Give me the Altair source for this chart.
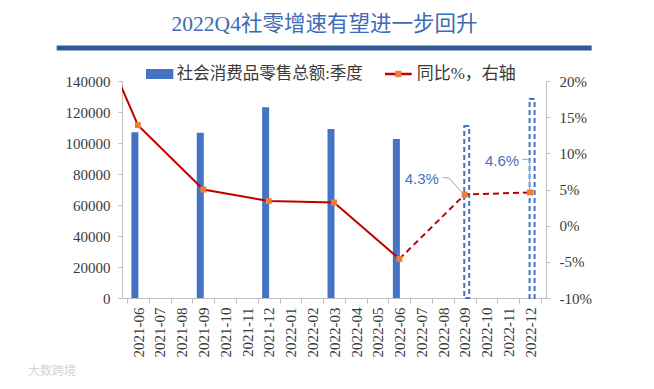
import altair as alt
import pandas as pd

# ---------------- data ----------------
months = ["2021-06", "2021-07", "2021-08", "2021-09", "2021-10", "2021-11",
          "2021-12", "2022-01", "2022-02", "2022-03", "2022-04", "2022-05",
          "2022-06", "2022-07", "2022-08", "2022-09", "2022-10", "2022-11",
          "2022-12"]

# quarterly retail sales (actual) -> month index into `months`
sales_idx = [0, 3, 6, 9, 12]
sales_val = [107000, 106600, 123000, 109000, 102600]
# forecast quarters (dashed outline bars)
fc_idx = [15, 18]
fc_val = [111000, 128400]

# YoY %, actual (first point is 2021-03, lies left of the plotted range)
yoy_idx = [-3, 0, 3, 6, 9, 12]
yoy_val = [34.9, 13.9, 5.0, 3.4, 3.2, -4.6]
# YoY %, forecast (dashed)
yoy_fc_idx = [12, 15, 18]
yoy_fc_val = [-4.6, 4.3, 4.6]
# markers
mk_idx = [0, 3, 6, 9, 12, 15, 18]
mk_val = [13.9, 5.0, 3.4, 3.2, -4.6, 4.3, 4.6]

title_text = "2022Q4社零增速有望进一步回升"
legend_bar = "社会消费品零售总额:季度"
legend_line = "同比%，右轴"

# ---------------- styling ----------------
BLUE = "#4472C4"
RED = "#C00000"
ORANGE = "#ED7D31"
AXIS = "#BFBFBF"
TXT = "#3A3A3A"
SERIF = "Liberation Serif, Noto Sans CJK SC"

sales_df = pd.DataFrame({"i": sales_idx, "v": sales_val})
fc_df = pd.DataFrame({"i": fc_idx, "v": fc_val})
yoy_df = pd.DataFrame({"i": yoy_idx, "v": yoy_val})
yoy_fc_df = pd.DataFrame({"i": yoy_fc_idx, "v": yoy_fc_val})
mk_df = pd.DataFrame({"i": mk_idx, "v": mk_val})
lab43 = pd.DataFrame({"i": [fc_idx[0]], "v": [yoy_fc_val[1]], "t": ["4.3%"]})
lab46 = pd.DataFrame({"i": [fc_idx[1]], "v": [yoy_fc_val[2]], "t": ["4.6%"]})
one = pd.DataFrame({"a": [0]})

xs = alt.Scale(domain=[-0.5, len(months) - 0.5], nice=False, zero=False)
ys_left = alt.Scale(domain=[0, 140000], nice=False)
ys_right = alt.Scale(domain=[-10, 20], nice=False, zero=False)

labels_js = "[" + ",".join(f"'{m}'" for m in months) + "]"
x_axis = alt.Axis(
    values=[k - 0.5 for k in range(len(months) + 1)],
    labelExpr=f"{labels_js}[round(datum.value + 0.5)] || ''",
    labelOffset=11.15, labelAngle=-90, labelAlign="right", labelBaseline="middle",
    labelFlush=False, labelOverlap=False, labelFontSize=15,
    labelColor=TXT, labelPadding=4, tickSize=5, tickColor=AXIS, domainColor=AXIS,
    grid=False, title=None, orient="bottom",
)
left_axis = alt.Axis(
    orient="left", values=list(range(0, 140001, 20000)), format="d",
    labelFontSize=15, labelColor=TXT, labelPadding=8,
    tickSize=4, tickColor=AXIS, domainColor=AXIS, grid=False, title=None)
right_axis = alt.Axis(
    orient="right", values=list(range(-10, 21, 5)), labelExpr="datum.value + '%'",
    labelFontSize=15, labelColor=TXT, labelPadding=9,
    tickSize=4, tickColor=AXIS, domainColor=AXIS, grid=False, title=None)

# every layer carries the same x axis definition so the shared axis merges cleanly
xq = alt.X("i:Q", scale=xs, axis=x_axis)
yl = alt.Y("v:Q", scale=ys_left, axis=None)
yr = alt.Y("v:Q", scale=ys_right, axis=None)

bars = alt.Chart(sales_df).mark_bar(size=7, color=BLUE, xOffset=-3).encode(
    x=xq, y=alt.Y("v:Q", scale=ys_left, axis=left_axis),
)
fc_bars = alt.Chart(fc_df).mark_bar(
    size=5, fillOpacity=0, stroke=BLUE, strokeWidth=2, strokeDash=[5, 3], xOffset=2
).encode(x=xq, y=yl)

line = alt.Chart(yoy_df).mark_line(color=RED, strokeWidth=2, clip=True).encode(
    x=xq, y=alt.Y("v:Q", scale=ys_right, axis=right_axis))
line_fc = alt.Chart(yoy_fc_df).mark_line(color=RED, strokeWidth=2, strokeDash=[6, 4]).encode(x=xq, y=yr)
markers = alt.Chart(mk_df).mark_square(size=36, color=ORANGE, opacity=1).encode(x=xq, y=yr)

lead_kw = dict(color="#A6A6A6", strokeWidth=1)
enc_pt = dict(x=xq, y=yr, x2="i:Q", y2="v:Q")
lead43a = alt.Chart(lab43).mark_rule(xOffset=-2, yOffset=-1.5, x2Offset=-16, y2Offset=-16.6, **lead_kw).encode(**enc_pt)
lead43b = alt.Chart(lab43).mark_rule(xOffset=-16, yOffset=-16.6, x2Offset=-22, y2Offset=-17, **lead_kw).encode(**enc_pt)
lead46a = alt.Chart(lab46).mark_rule(xOffset=-0.6, yOffset=-3, x2Offset=-0.6, y2Offset=-33, **lead_kw).encode(**enc_pt)
lead46b = alt.Chart(lab46).mark_rule(xOffset=-0.6, yOffset=-33, x2Offset=-8, y2Offset=-33, **lead_kw).encode(**enc_pt)

ann_kw = dict(color=BLUE, font="Liberation Sans", fontSize=15, align="center", baseline="middle")
t43 = alt.Chart(lab43).mark_text(dx=-43, dy=-16, **ann_kw).encode(x=xq, y=yr, text="t:N")
t46 = alt.Chart(lab46).mark_text(dx=-28, dy=-31, **ann_kw).encode(x=xq, y=yr, text="t:N")

# ---------------- decorations: title, rule, legend, watermark ----------------
title = alt.Chart(one).mark_text(
    text=title_text, font=SERIF, fontSize=21.5, color="#3D6BB5", align="center", baseline="middle"
).encode(x=alt.value(202.5), y=alt.value(-56))
title_rule = alt.Chart(one).mark_rule(color="#2E5C96", strokeWidth=5).encode(
    x=alt.value(-65.3), x2=alt.value(469.7), y=alt.value(-33))
leg_rect = alt.Chart(one).mark_rect(color=BLUE).encode(
    x=alt.value(24), x2=alt.value(51.3), y=alt.value(-12), y2=alt.value(-2))
leg_t1 = alt.Chart(one).mark_text(
    text=legend_bar, font=SERIF, fontSize=16.5, color=TXT, align="left", baseline="middle"
).encode(x=alt.value(54.7), y=alt.value(-7))
leg_line = alt.Chart(one).mark_rule(color=RED, strokeWidth=2.5).encode(
    x=alt.value(263), x2=alt.value(289.7), y=alt.value(-7))
leg_mk = alt.Chart(one).mark_square(size=40, color=ORANGE, opacity=1).encode(
    x=alt.value(276.3), y=alt.value(-7))
leg_t2 = alt.Chart(one).mark_text(
    text=legend_line, font=SERIF, fontSize=17, color=TXT, align="left", baseline="middle"
).encode(x=alt.value(294.7), y=alt.value(-7))
watermark = alt.Chart(one).mark_text(
    text="大数跨境", font="Noto Sans CJK SC", fontSize=12, color="#D4D4D4", align="left", baseline="middle"
).encode(x=alt.value(-94), y=alt.value(290))

chart = alt.layer(
    bars, fc_bars, line, line_fc, markers,
    lead43a, lead43b, lead46a, lead46b, t43, t46,
    title, title_rule, leg_rect, leg_t1, leg_line, leg_mk, leg_t2, watermark,
).resolve_scale(y="independent").properties(
    width=424, height=217,
    padding={"left": 114, "top": 73, "right": 92, "bottom": 80},
    autosize=alt.AutoSizeParams(type="none"),
    background="white",
).configure(
    font="Liberation Serif"
).configure_axis(
    labelFont="Liberation Serif"
).configure_view(stroke=None)

chart.save("out.html", embed_options={"renderer": "svg", "actions": False})
